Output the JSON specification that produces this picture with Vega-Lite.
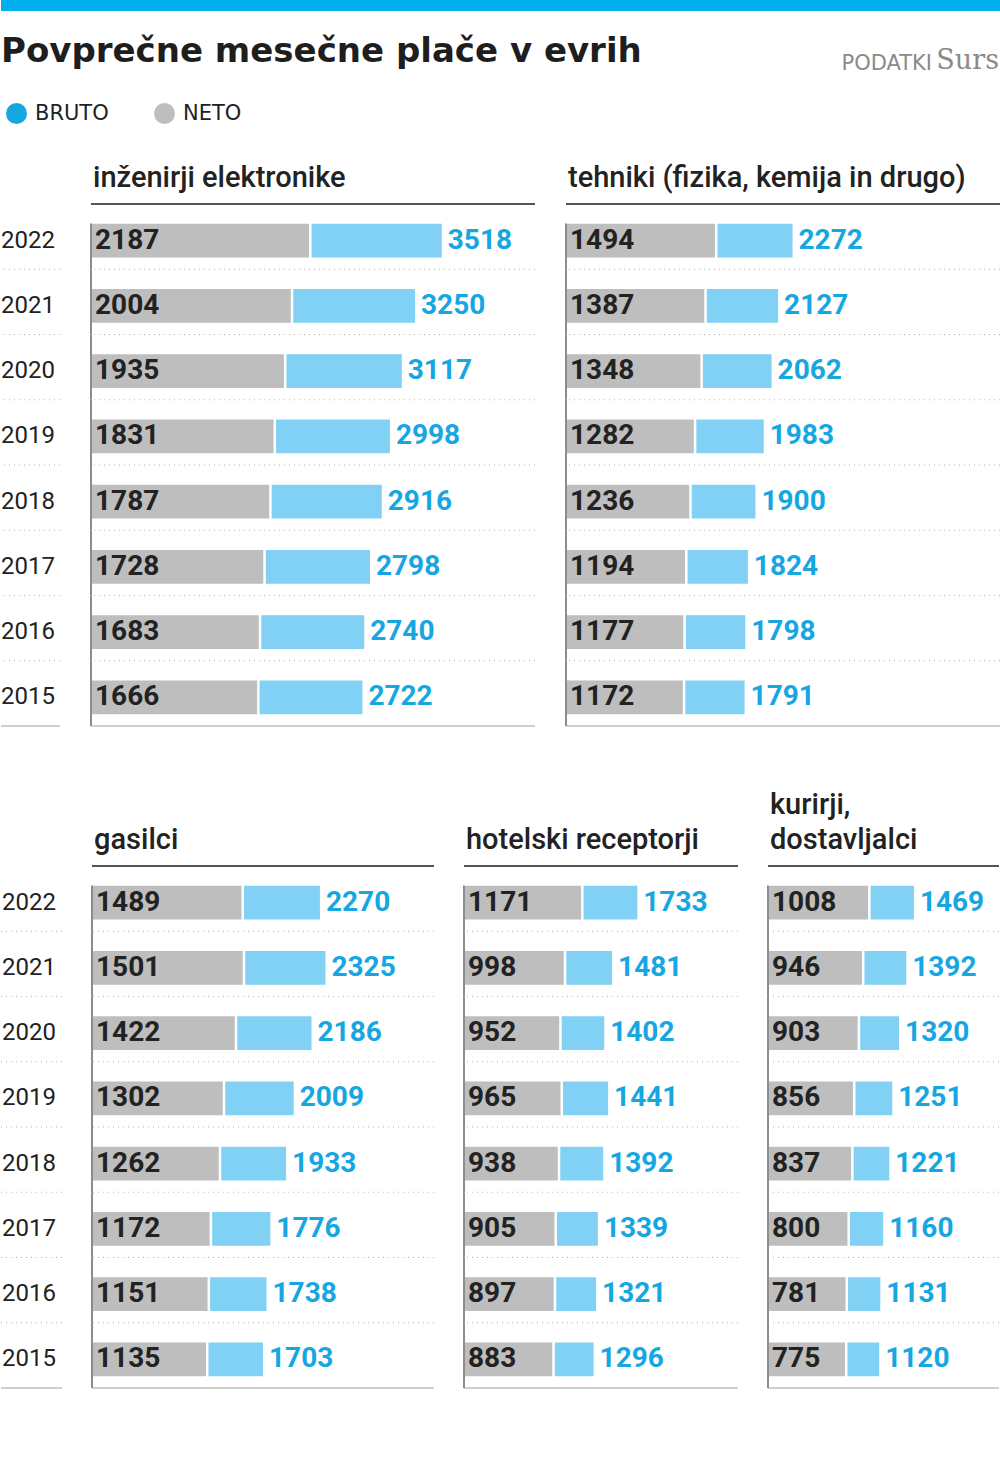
{
  "$schema": "https://vega.github.io/schema/vega-lite/v6.json",
  "padding": 0,
  "background": "white",
  "spacing": 90,
  "datasets": {
    "place": [
      {"skupina": "inženirji elektronike", "leto": 2022, "neto": 2187, "bruto": 3518},
      {"skupina": "inženirji elektronike", "leto": 2021, "neto": 2004, "bruto": 3250},
      {"skupina": "inženirji elektronike", "leto": 2020, "neto": 1935, "bruto": 3117},
      {"skupina": "inženirji elektronike", "leto": 2019, "neto": 1831, "bruto": 2998},
      {"skupina": "inženirji elektronike", "leto": 2018, "neto": 1787, "bruto": 2916},
      {"skupina": "inženirji elektronike", "leto": 2017, "neto": 1728, "bruto": 2798},
      {"skupina": "inženirji elektronike", "leto": 2016, "neto": 1683, "bruto": 2740},
      {"skupina": "inženirji elektronike", "leto": 2015, "neto": 1666, "bruto": 2722},
      {"skupina": "tehniki", "leto": 2022, "neto": 1494, "bruto": 2272},
      {"skupina": "tehniki", "leto": 2021, "neto": 1387, "bruto": 2127},
      {"skupina": "tehniki", "leto": 2020, "neto": 1348, "bruto": 2062},
      {"skupina": "tehniki", "leto": 2019, "neto": 1282, "bruto": 1983},
      {"skupina": "tehniki", "leto": 2018, "neto": 1236, "bruto": 1900},
      {"skupina": "tehniki", "leto": 2017, "neto": 1194, "bruto": 1824},
      {"skupina": "tehniki", "leto": 2016, "neto": 1177, "bruto": 1798},
      {"skupina": "tehniki", "leto": 2015, "neto": 1172, "bruto": 1791},
      {"skupina": "gasilci", "leto": 2022, "neto": 1489, "bruto": 2270},
      {"skupina": "gasilci", "leto": 2021, "neto": 1501, "bruto": 2325},
      {"skupina": "gasilci", "leto": 2020, "neto": 1422, "bruto": 2186},
      {"skupina": "gasilci", "leto": 2019, "neto": 1302, "bruto": 2009},
      {"skupina": "gasilci", "leto": 2018, "neto": 1262, "bruto": 1933},
      {"skupina": "gasilci", "leto": 2017, "neto": 1172, "bruto": 1776},
      {"skupina": "gasilci", "leto": 2016, "neto": 1151, "bruto": 1738},
      {"skupina": "gasilci", "leto": 2015, "neto": 1135, "bruto": 1703},
      {"skupina": "hotelski receptorji", "leto": 2022, "neto": 1171, "bruto": 1733},
      {"skupina": "hotelski receptorji", "leto": 2021, "neto": 998, "bruto": 1481},
      {"skupina": "hotelski receptorji", "leto": 2020, "neto": 952, "bruto": 1402},
      {"skupina": "hotelski receptorji", "leto": 2019, "neto": 965, "bruto": 1441},
      {"skupina": "hotelski receptorji", "leto": 2018, "neto": 938, "bruto": 1392},
      {"skupina": "hotelski receptorji", "leto": 2017, "neto": 905, "bruto": 1339},
      {"skupina": "hotelski receptorji", "leto": 2016, "neto": 897, "bruto": 1321},
      {"skupina": "hotelski receptorji", "leto": 2015, "neto": 883, "bruto": 1296},
      {"skupina": "kurirji", "leto": 2022, "neto": 1008, "bruto": 1469},
      {"skupina": "kurirji", "leto": 2021, "neto": 946, "bruto": 1392},
      {"skupina": "kurirji", "leto": 2020, "neto": 903, "bruto": 1320},
      {"skupina": "kurirji", "leto": 2019, "neto": 856, "bruto": 1251},
      {"skupina": "kurirji", "leto": 2018, "neto": 837, "bruto": 1221},
      {"skupina": "kurirji", "leto": 2017, "neto": 800, "bruto": 1160},
      {"skupina": "kurirji", "leto": 2016, "neto": 781, "bruto": 1131},
      {"skupina": "kurirji", "leto": 2015, "neto": 775, "bruto": 1120}
    ]
  },
  "data": {"name": "place"},
  "config": {
    "view": {"stroke": null},
    "font": "Roboto",
    "axisY": {"domainColor": "#8c8c8c", "domainOpacity": 0, "domainWidth": 2, "labels": false, "ticks": false, "grid": false},
    "title": {"font": "Roboto", "fontSize": 29, "fontWeight": 500, "color": "#222222"},
    "legend": {"orient": "none", "legendX": 5, "legendY": 103, "direction": "horizontal", "symbolType": "circle", "symbolSize": 441, "symbolStrokeWidth": 0, "symbolOpacity": 1, "labelFont": "DejaVu Sans", "labelFontSize": 21, "labelColor": "#222222", "labelOffset": 8, "columnPadding": 45, "padding": 0}
  },
  "vconcat": [
    {
      "spacing": 0,
      "hconcat": [
        {
          "width": 820, "height": 11,
          "data": {"values": [{}]},
          "mark": {"type": "rect", "color": "#00adef"},
          "encoding": {},
          "title": {"text": "Povprečne mesečne plače v evrih", "orient": "bottom", "anchor": "start", "font": "DejaVu Sans", "fontSize": 34, "fontWeight": "bold", "color": "#1e1e1e", "offset": 24}
        },
        {
          "width": 114, "height": 11,
          "data": {"values": [{}]},
          "mark": {"type": "rect", "color": "#00adef"},
          "encoding": {},
          "title": {"text": "PODATKI", "orient": "bottom", "anchor": "end", "dx": -3, "font": "DejaVu Sans", "fontSize": 21, "fontWeight": "normal", "color": "#8a8a8a", "offset": 42}
        },
        {
          "width": 66, "height": 11,
          "data": {"values": [{}]},
          "mark": {"type": "rect", "color": "#00adef"},
          "encoding": {},
          "title": {"text": "Surs", "orient": "bottom", "anchor": "end", "dx": -2, "font": "DejaVu Serif", "fontSize": 27, "fontWeight": "normal", "color": "#8a8a8a", "offset": 37}
        }
      ]
    },
    {
      "spacing": 64,
      "vconcat": [
        {
          "spacing": 29,
          "hconcat": [
            {
              "width": 59, "height": 522,
              "transform": [{"filter": "datum.skupina === 'inženirji elektronike'"}],
              "layer": [
                {"mark": {"type": "text", "font": "Roboto", "fontSize": 24, "color": "#222222", "dx": -2.5, "yOffset": 4},
                 "encoding": {"y": {"field": "leto", "type": "ordinal", "sort": "descending", "title": null, "axis": null, "scale": {"type": "band", "paddingInner": 0, "paddingOuter": 0}}, "text": {"field": "leto", "type": "ordinal"}}},
                {"transform": [{"filter": "datum.leto !== 2015"}], "mark": {"type": "rule", "color": "#b5b5b5", "strokeDash": [1, 4], "strokeWidth": 1},
                 "encoding": {"y": {"field": "leto", "type": "ordinal", "sort": "descending", "title": null, "axis": null, "bandPosition": 1, "scale": {"type": "band", "paddingInner": 0, "paddingOuter": 0}}}},
                {"transform": [{"filter": "datum.leto === 2015"}], "mark": {"type": "rule", "color": "#cfcfcf", "strokeWidth": 2},
                 "encoding": {"y": {"field": "leto", "type": "ordinal", "sort": "descending", "title": null, "axis": null, "bandPosition": 1, "scale": {"type": "band", "paddingInner": 0, "paddingOuter": 0}}}}
              ]
            },
            {
              "width": 444, "height": 522,
              "title": {"text": "inženirji elektronike", "anchor": "start", "dx": 3, "offset": 10},
              "transform": [{"filter": "datum.skupina === 'inženirji elektronike'"}],
              "layer": [
                {"transform": [{"filter": "datum.leto !== 2015"}], "mark": {"type": "rule", "color": "#b5b5b5", "strokeDash": [1, 4], "strokeWidth": 1},
                 "encoding": {"y": {"field": "leto", "type": "ordinal", "sort": "descending", "title": null, "bandPosition": 1, "scale": {"type": "band", "paddingInner": 0, "paddingOuter": 0}}}},
                {"transform": [{"filter": "datum.leto === 2015"}], "mark": {"type": "rule", "color": "#cfcfcf", "strokeWidth": 2},
                 "encoding": {"y": {"field": "leto", "type": "ordinal", "sort": "descending", "title": null, "bandPosition": 1, "scale": {"type": "band", "paddingInner": 0, "paddingOuter": 0}}}},
                {"transform": [{"filter": "datum.leto === 2022"}], "mark": {"type": "rule", "color": "#555555", "strokeWidth": 2},
                 "encoding": {"y": {"field": "leto", "type": "ordinal", "sort": "descending", "title": null, "bandPosition": 0, "scale": {"type": "band", "paddingInner": 0, "paddingOuter": 0}}}},
                {"mark": {"type": "bar", "height": {"band": 0.52}, "yOffset": 4},
                 "encoding": {"y": {"field": "leto", "type": "ordinal", "sort": "descending", "title": null, "scale": {"type": "band", "paddingInner": 0, "paddingOuter": 0}},
                   "x": {"field": "neto", "type": "quantitative", "axis": null, "scale": {"domain": [0, 4453], "nice": false}},
                   "color": {"datum": "NETO", "title": null, "scale": {"domain": ["BRUTO", "NETO"], "range": ["#16a6e2", "#bebebe"]}}}},
                {"mark": {"type": "bar", "height": {"band": 0.52}, "yOffset": 4, "color": "#80d1f4", "x2Offset": 2.5},
                 "encoding": {"y": {"field": "leto", "type": "ordinal", "sort": "descending", "title": null, "scale": {"type": "band", "paddingInner": 0, "paddingOuter": 0}},
                   "x": {"field": "bruto", "type": "quantitative", "axis": null, "scale": {"domain": [0, 4453], "nice": false}},
                   "x2": {"field": "neto"}}},
                {"transform": [{"filter": "datum.leto !== 2022"}], "mark": {"type": "bar", "height": {"band": 1}, "color": "#8c8c8c", "xOffset": -1, "x2Offset": 1},
                 "encoding": {"y": {"field": "leto", "type": "ordinal", "sort": "descending", "title": null, "scale": {"type": "band", "paddingInner": 0, "paddingOuter": 0}},
                   "x": {"datum": 0, "type": "quantitative", "axis": null, "scale": {"domain": [0, 4453], "nice": false}},
                   "x2": {"datum": 0}}},
                {"transform": [{"filter": "datum.leto === 2022"}], "mark": {"type": "bar", "height": {"band": 0.7}, "yOffset": 9.8, "color": "#8c8c8c", "xOffset": -1, "x2Offset": 1},
                 "encoding": {"y": {"field": "leto", "type": "ordinal", "sort": "descending", "title": null, "scale": {"type": "band", "paddingInner": 0, "paddingOuter": 0}},
                   "x": {"datum": 0, "type": "quantitative", "axis": null, "scale": {"domain": [0, 4453], "nice": false}},
                   "x2": {"datum": 0}}},
                {"mark": {"type": "text", "align": "left", "dx": 4, "yOffset": 4, "font": "Roboto", "fontSize": 28, "fontWeight": "bold", "color": "#222222"},
                 "encoding": {"y": {"field": "leto", "type": "ordinal", "sort": "descending", "title": null, "scale": {"type": "band", "paddingInner": 0, "paddingOuter": 0}},
                   "x": {"datum": 0, "type": "quantitative", "axis": null, "scale": {"domain": [0, 4453], "nice": false}},
                   "text": {"field": "neto", "type": "quantitative", "format": "d"}}},
                {"mark": {"type": "text", "align": "left", "dx": 6, "yOffset": 4, "font": "Roboto", "fontSize": 28, "fontWeight": "bold"},
                 "encoding": {"y": {"field": "leto", "type": "ordinal", "sort": "descending", "title": null, "scale": {"type": "band", "paddingInner": 0, "paddingOuter": 0}},
                   "x": {"field": "bruto", "type": "quantitative", "axis": null, "scale": {"domain": [0, 4453], "nice": false}},
                   "color": {"datum": "BRUTO", "title": null, "scale": {"domain": ["BRUTO", "NETO"], "range": ["#16a6e2", "#bebebe"]}},
                   "text": {"field": "bruto", "type": "quantitative", "format": "d"}}}
              ]
            },
            {
              "width": 434, "height": 522,
              "title": {"text": "tehniki (fizika, kemija in drugo)", "anchor": "start", "dx": 3, "offset": 10},
              "transform": [{"filter": "datum.skupina === 'tehniki'"}],
              "layer": [
                {"transform": [{"filter": "datum.leto !== 2015"}], "mark": {"type": "rule", "color": "#b5b5b5", "strokeDash": [1, 4], "strokeWidth": 1},
                 "encoding": {"y": {"field": "leto", "type": "ordinal", "sort": "descending", "title": null, "bandPosition": 1, "scale": {"type": "band", "paddingInner": 0, "paddingOuter": 0}}}},
                {"transform": [{"filter": "datum.leto === 2015"}], "mark": {"type": "rule", "color": "#cfcfcf", "strokeWidth": 2},
                 "encoding": {"y": {"field": "leto", "type": "ordinal", "sort": "descending", "title": null, "bandPosition": 1, "scale": {"type": "band", "paddingInner": 0, "paddingOuter": 0}}}},
                {"transform": [{"filter": "datum.leto === 2022"}], "mark": {"type": "rule", "color": "#555555", "strokeWidth": 2},
                 "encoding": {"y": {"field": "leto", "type": "ordinal", "sort": "descending", "title": null, "bandPosition": 0, "scale": {"type": "band", "paddingInner": 0, "paddingOuter": 0}}}},
                {"mark": {"type": "bar", "height": {"band": 0.52}, "yOffset": 4},
                 "encoding": {"y": {"field": "leto", "type": "ordinal", "sort": "descending", "title": null, "scale": {"type": "band", "paddingInner": 0, "paddingOuter": 0}},
                   "x": {"field": "neto", "type": "quantitative", "axis": null, "scale": {"domain": [0, 4353], "nice": false}},
                   "color": {"datum": "NETO", "title": null, "scale": {"domain": ["BRUTO", "NETO"], "range": ["#16a6e2", "#bebebe"]}}}},
                {"mark": {"type": "bar", "height": {"band": 0.52}, "yOffset": 4, "color": "#80d1f4", "x2Offset": 2.5},
                 "encoding": {"y": {"field": "leto", "type": "ordinal", "sort": "descending", "title": null, "scale": {"type": "band", "paddingInner": 0, "paddingOuter": 0}},
                   "x": {"field": "bruto", "type": "quantitative", "axis": null, "scale": {"domain": [0, 4353], "nice": false}},
                   "x2": {"field": "neto"}}},
                {"transform": [{"filter": "datum.leto !== 2022"}], "mark": {"type": "bar", "height": {"band": 1}, "color": "#8c8c8c", "xOffset": -1, "x2Offset": 1},
                 "encoding": {"y": {"field": "leto", "type": "ordinal", "sort": "descending", "title": null, "scale": {"type": "band", "paddingInner": 0, "paddingOuter": 0}},
                   "x": {"datum": 0, "type": "quantitative", "axis": null, "scale": {"domain": [0, 4353], "nice": false}},
                   "x2": {"datum": 0}}},
                {"transform": [{"filter": "datum.leto === 2022"}], "mark": {"type": "bar", "height": {"band": 0.7}, "yOffset": 9.8, "color": "#8c8c8c", "xOffset": -1, "x2Offset": 1},
                 "encoding": {"y": {"field": "leto", "type": "ordinal", "sort": "descending", "title": null, "scale": {"type": "band", "paddingInner": 0, "paddingOuter": 0}},
                   "x": {"datum": 0, "type": "quantitative", "axis": null, "scale": {"domain": [0, 4353], "nice": false}},
                   "x2": {"datum": 0}}},
                {"mark": {"type": "text", "align": "left", "dx": 4, "yOffset": 4, "font": "Roboto", "fontSize": 28, "fontWeight": "bold", "color": "#222222"},
                 "encoding": {"y": {"field": "leto", "type": "ordinal", "sort": "descending", "title": null, "scale": {"type": "band", "paddingInner": 0, "paddingOuter": 0}},
                   "x": {"datum": 0, "type": "quantitative", "axis": null, "scale": {"domain": [0, 4353], "nice": false}},
                   "text": {"field": "neto", "type": "quantitative", "format": "d"}}},
                {"mark": {"type": "text", "align": "left", "dx": 6, "yOffset": 4, "font": "Roboto", "fontSize": 28, "fontWeight": "bold"},
                 "encoding": {"y": {"field": "leto", "type": "ordinal", "sort": "descending", "title": null, "scale": {"type": "band", "paddingInner": 0, "paddingOuter": 0}},
                   "x": {"field": "bruto", "type": "quantitative", "axis": null, "scale": {"domain": [0, 4353], "nice": false}},
                   "color": {"datum": "BRUTO", "title": null, "scale": {"domain": ["BRUTO", "NETO"], "range": ["#16a6e2", "#bebebe"]}},
                   "text": {"field": "bruto", "type": "quantitative", "format": "d"}}}
              ]
            }
          ]
        },
        {
          "spacing": 28,
          "hconcat": [
            {
              "width": 61, "height": 522,
              "transform": [{"filter": "datum.skupina === 'gasilci'"}],
              "layer": [
                {"mark": {"type": "text", "font": "Roboto", "fontSize": 24, "color": "#222222", "dx": -2.5, "yOffset": 4},
                 "encoding": {"y": {"field": "leto", "type": "ordinal", "sort": "descending", "title": null, "axis": null, "scale": {"type": "band", "paddingInner": 0, "paddingOuter": 0}}, "text": {"field": "leto", "type": "ordinal"}}},
                {"transform": [{"filter": "datum.leto !== 2015"}], "mark": {"type": "rule", "color": "#b5b5b5", "strokeDash": [1, 4], "strokeWidth": 1},
                 "encoding": {"y": {"field": "leto", "type": "ordinal", "sort": "descending", "title": null, "axis": null, "bandPosition": 1, "scale": {"type": "band", "paddingInner": 0, "paddingOuter": 0}}}},
                {"transform": [{"filter": "datum.leto === 2015"}], "mark": {"type": "rule", "color": "#cfcfcf", "strokeWidth": 2},
                 "encoding": {"y": {"field": "leto", "type": "ordinal", "sort": "descending", "title": null, "axis": null, "bandPosition": 1, "scale": {"type": "band", "paddingInner": 0, "paddingOuter": 0}}}}
              ]
            },
            {
              "width": 342, "height": 522,
              "title": {"text": "gasilci", "anchor": "start", "dx": 3, "offset": 10},
              "transform": [{"filter": "datum.skupina === 'gasilci'"}],
              "layer": [
                {"transform": [{"filter": "datum.leto !== 2015"}], "mark": {"type": "rule", "color": "#b5b5b5", "strokeDash": [1, 4], "strokeWidth": 1},
                 "encoding": {"y": {"field": "leto", "type": "ordinal", "sort": "descending", "title": null, "bandPosition": 1, "scale": {"type": "band", "paddingInner": 0, "paddingOuter": 0}}}},
                {"transform": [{"filter": "datum.leto === 2015"}], "mark": {"type": "rule", "color": "#cfcfcf", "strokeWidth": 2},
                 "encoding": {"y": {"field": "leto", "type": "ordinal", "sort": "descending", "title": null, "bandPosition": 1, "scale": {"type": "band", "paddingInner": 0, "paddingOuter": 0}}}},
                {"transform": [{"filter": "datum.leto === 2022"}], "mark": {"type": "rule", "color": "#555555", "strokeWidth": 2},
                 "encoding": {"y": {"field": "leto", "type": "ordinal", "sort": "descending", "title": null, "bandPosition": 0, "scale": {"type": "band", "paddingInner": 0, "paddingOuter": 0}}}},
                {"mark": {"type": "bar", "height": {"band": 0.52}, "yOffset": 4},
                 "encoding": {"y": {"field": "leto", "type": "ordinal", "sort": "descending", "title": null, "scale": {"type": "band", "paddingInner": 0, "paddingOuter": 0}},
                   "x": {"field": "neto", "type": "quantitative", "axis": null, "scale": {"domain": [0, 3406], "nice": false}},
                   "color": {"datum": "NETO", "title": null, "scale": {"domain": ["BRUTO", "NETO"], "range": ["#16a6e2", "#bebebe"]}}}},
                {"mark": {"type": "bar", "height": {"band": 0.52}, "yOffset": 4, "color": "#80d1f4", "x2Offset": 2.5},
                 "encoding": {"y": {"field": "leto", "type": "ordinal", "sort": "descending", "title": null, "scale": {"type": "band", "paddingInner": 0, "paddingOuter": 0}},
                   "x": {"field": "bruto", "type": "quantitative", "axis": null, "scale": {"domain": [0, 3406], "nice": false}},
                   "x2": {"field": "neto"}}},
                {"transform": [{"filter": "datum.leto !== 2022"}], "mark": {"type": "bar", "height": {"band": 1}, "color": "#8c8c8c", "xOffset": -1, "x2Offset": 1},
                 "encoding": {"y": {"field": "leto", "type": "ordinal", "sort": "descending", "title": null, "scale": {"type": "band", "paddingInner": 0, "paddingOuter": 0}},
                   "x": {"datum": 0, "type": "quantitative", "axis": null, "scale": {"domain": [0, 3406], "nice": false}},
                   "x2": {"datum": 0}}},
                {"transform": [{"filter": "datum.leto === 2022"}], "mark": {"type": "bar", "height": {"band": 0.7}, "yOffset": 9.8, "color": "#8c8c8c", "xOffset": -1, "x2Offset": 1},
                 "encoding": {"y": {"field": "leto", "type": "ordinal", "sort": "descending", "title": null, "scale": {"type": "band", "paddingInner": 0, "paddingOuter": 0}},
                   "x": {"datum": 0, "type": "quantitative", "axis": null, "scale": {"domain": [0, 3406], "nice": false}},
                   "x2": {"datum": 0}}},
                {"mark": {"type": "text", "align": "left", "dx": 4, "yOffset": 4, "font": "Roboto", "fontSize": 28, "fontWeight": "bold", "color": "#222222"},
                 "encoding": {"y": {"field": "leto", "type": "ordinal", "sort": "descending", "title": null, "scale": {"type": "band", "paddingInner": 0, "paddingOuter": 0}},
                   "x": {"datum": 0, "type": "quantitative", "axis": null, "scale": {"domain": [0, 3406], "nice": false}},
                   "text": {"field": "neto", "type": "quantitative", "format": "d"}}},
                {"mark": {"type": "text", "align": "left", "dx": 6, "yOffset": 4, "font": "Roboto", "fontSize": 28, "fontWeight": "bold"},
                 "encoding": {"y": {"field": "leto", "type": "ordinal", "sort": "descending", "title": null, "scale": {"type": "band", "paddingInner": 0, "paddingOuter": 0}},
                   "x": {"field": "bruto", "type": "quantitative", "axis": null, "scale": {"domain": [0, 3406], "nice": false}},
                   "color": {"datum": "BRUTO", "title": null, "scale": {"domain": ["BRUTO", "NETO"], "range": ["#16a6e2", "#bebebe"]}},
                   "text": {"field": "bruto", "type": "quantitative", "format": "d"}}}
              ]
            },
            {
              "width": 274, "height": 522,
              "title": {"text": "hotelski receptorji", "anchor": "start", "dx": 3, "offset": 10},
              "transform": [{"filter": "datum.skupina === 'hotelski receptorji'"}],
              "layer": [
                {"transform": [{"filter": "datum.leto !== 2015"}], "mark": {"type": "rule", "color": "#b5b5b5", "strokeDash": [1, 4], "strokeWidth": 1},
                 "encoding": {"y": {"field": "leto", "type": "ordinal", "sort": "descending", "title": null, "bandPosition": 1, "scale": {"type": "band", "paddingInner": 0, "paddingOuter": 0}}}},
                {"transform": [{"filter": "datum.leto === 2015"}], "mark": {"type": "rule", "color": "#cfcfcf", "strokeWidth": 2},
                 "encoding": {"y": {"field": "leto", "type": "ordinal", "sort": "descending", "title": null, "bandPosition": 1, "scale": {"type": "band", "paddingInner": 0, "paddingOuter": 0}}}},
                {"transform": [{"filter": "datum.leto === 2022"}], "mark": {"type": "rule", "color": "#555555", "strokeWidth": 2},
                 "encoding": {"y": {"field": "leto", "type": "ordinal", "sort": "descending", "title": null, "bandPosition": 0, "scale": {"type": "band", "paddingInner": 0, "paddingOuter": 0}}}},
                {"mark": {"type": "bar", "height": {"band": 0.52}, "yOffset": 4},
                 "encoding": {"y": {"field": "leto", "type": "ordinal", "sort": "descending", "title": null, "scale": {"type": "band", "paddingInner": 0, "paddingOuter": 0}},
                   "x": {"field": "neto", "type": "quantitative", "axis": null, "scale": {"domain": [0, 2740], "nice": false}},
                   "color": {"datum": "NETO", "title": null, "scale": {"domain": ["BRUTO", "NETO"], "range": ["#16a6e2", "#bebebe"]}}}},
                {"mark": {"type": "bar", "height": {"band": 0.52}, "yOffset": 4, "color": "#80d1f4", "x2Offset": 2.5},
                 "encoding": {"y": {"field": "leto", "type": "ordinal", "sort": "descending", "title": null, "scale": {"type": "band", "paddingInner": 0, "paddingOuter": 0}},
                   "x": {"field": "bruto", "type": "quantitative", "axis": null, "scale": {"domain": [0, 2740], "nice": false}},
                   "x2": {"field": "neto"}}},
                {"transform": [{"filter": "datum.leto !== 2022"}], "mark": {"type": "bar", "height": {"band": 1}, "color": "#8c8c8c", "xOffset": -1, "x2Offset": 1},
                 "encoding": {"y": {"field": "leto", "type": "ordinal", "sort": "descending", "title": null, "scale": {"type": "band", "paddingInner": 0, "paddingOuter": 0}},
                   "x": {"datum": 0, "type": "quantitative", "axis": null, "scale": {"domain": [0, 2740], "nice": false}},
                   "x2": {"datum": 0}}},
                {"transform": [{"filter": "datum.leto === 2022"}], "mark": {"type": "bar", "height": {"band": 0.7}, "yOffset": 9.8, "color": "#8c8c8c", "xOffset": -1, "x2Offset": 1},
                 "encoding": {"y": {"field": "leto", "type": "ordinal", "sort": "descending", "title": null, "scale": {"type": "band", "paddingInner": 0, "paddingOuter": 0}},
                   "x": {"datum": 0, "type": "quantitative", "axis": null, "scale": {"domain": [0, 2740], "nice": false}},
                   "x2": {"datum": 0}}},
                {"mark": {"type": "text", "align": "left", "dx": 4, "yOffset": 4, "font": "Roboto", "fontSize": 28, "fontWeight": "bold", "color": "#222222"},
                 "encoding": {"y": {"field": "leto", "type": "ordinal", "sort": "descending", "title": null, "scale": {"type": "band", "paddingInner": 0, "paddingOuter": 0}},
                   "x": {"datum": 0, "type": "quantitative", "axis": null, "scale": {"domain": [0, 2740], "nice": false}},
                   "text": {"field": "neto", "type": "quantitative", "format": "d"}}},
                {"mark": {"type": "text", "align": "left", "dx": 6, "yOffset": 4, "font": "Roboto", "fontSize": 28, "fontWeight": "bold"},
                 "encoding": {"y": {"field": "leto", "type": "ordinal", "sort": "descending", "title": null, "scale": {"type": "band", "paddingInner": 0, "paddingOuter": 0}},
                   "x": {"field": "bruto", "type": "quantitative", "axis": null, "scale": {"domain": [0, 2740], "nice": false}},
                   "color": {"datum": "BRUTO", "title": null, "scale": {"domain": ["BRUTO", "NETO"], "range": ["#16a6e2", "#bebebe"]}},
                   "text": {"field": "bruto", "type": "quantitative", "format": "d"}}}
              ]
            },
            {
              "width": 231, "height": 522,
              "title": {"text": ["kurirji,", "dostavljalci"], "anchor": "start", "dx": 3, "offset": 10, "lineHeight": 35},
              "transform": [{"filter": "datum.skupina === 'kurirji'"}],
              "layer": [
                {"transform": [{"filter": "datum.leto !== 2015"}], "mark": {"type": "rule", "color": "#b5b5b5", "strokeDash": [1, 4], "strokeWidth": 1},
                 "encoding": {"y": {"field": "leto", "type": "ordinal", "sort": "descending", "title": null, "bandPosition": 1, "scale": {"type": "band", "paddingInner": 0, "paddingOuter": 0}}}},
                {"transform": [{"filter": "datum.leto === 2015"}], "mark": {"type": "rule", "color": "#cfcfcf", "strokeWidth": 2},
                 "encoding": {"y": {"field": "leto", "type": "ordinal", "sort": "descending", "title": null, "bandPosition": 1, "scale": {"type": "band", "paddingInner": 0, "paddingOuter": 0}}}},
                {"transform": [{"filter": "datum.leto === 2022"}], "mark": {"type": "rule", "color": "#555555", "strokeWidth": 2},
                 "encoding": {"y": {"field": "leto", "type": "ordinal", "sort": "descending", "title": null, "bandPosition": 0, "scale": {"type": "band", "paddingInner": 0, "paddingOuter": 0}}}},
                {"mark": {"type": "bar", "height": {"band": 0.52}, "yOffset": 4},
                 "encoding": {"y": {"field": "leto", "type": "ordinal", "sort": "descending", "title": null, "scale": {"type": "band", "paddingInner": 0, "paddingOuter": 0}},
                   "x": {"field": "neto", "type": "quantitative", "axis": null, "scale": {"domain": [0, 2326], "nice": false}},
                   "color": {"datum": "NETO", "title": null, "scale": {"domain": ["BRUTO", "NETO"], "range": ["#16a6e2", "#bebebe"]}}}},
                {"mark": {"type": "bar", "height": {"band": 0.52}, "yOffset": 4, "color": "#80d1f4", "x2Offset": 2.5},
                 "encoding": {"y": {"field": "leto", "type": "ordinal", "sort": "descending", "title": null, "scale": {"type": "band", "paddingInner": 0, "paddingOuter": 0}},
                   "x": {"field": "bruto", "type": "quantitative", "axis": null, "scale": {"domain": [0, 2326], "nice": false}},
                   "x2": {"field": "neto"}}},
                {"transform": [{"filter": "datum.leto !== 2022"}], "mark": {"type": "bar", "height": {"band": 1}, "color": "#8c8c8c", "xOffset": -1, "x2Offset": 1},
                 "encoding": {"y": {"field": "leto", "type": "ordinal", "sort": "descending", "title": null, "scale": {"type": "band", "paddingInner": 0, "paddingOuter": 0}},
                   "x": {"datum": 0, "type": "quantitative", "axis": null, "scale": {"domain": [0, 2326], "nice": false}},
                   "x2": {"datum": 0}}},
                {"transform": [{"filter": "datum.leto === 2022"}], "mark": {"type": "bar", "height": {"band": 0.7}, "yOffset": 9.8, "color": "#8c8c8c", "xOffset": -1, "x2Offset": 1},
                 "encoding": {"y": {"field": "leto", "type": "ordinal", "sort": "descending", "title": null, "scale": {"type": "band", "paddingInner": 0, "paddingOuter": 0}},
                   "x": {"datum": 0, "type": "quantitative", "axis": null, "scale": {"domain": [0, 2326], "nice": false}},
                   "x2": {"datum": 0}}},
                {"mark": {"type": "text", "align": "left", "dx": 4, "yOffset": 4, "font": "Roboto", "fontSize": 28, "fontWeight": "bold", "color": "#222222"},
                 "encoding": {"y": {"field": "leto", "type": "ordinal", "sort": "descending", "title": null, "scale": {"type": "band", "paddingInner": 0, "paddingOuter": 0}},
                   "x": {"datum": 0, "type": "quantitative", "axis": null, "scale": {"domain": [0, 2326], "nice": false}},
                   "text": {"field": "neto", "type": "quantitative", "format": "d"}}},
                {"mark": {"type": "text", "align": "left", "dx": 6, "yOffset": 4, "font": "Roboto", "fontSize": 28, "fontWeight": "bold"},
                 "encoding": {"y": {"field": "leto", "type": "ordinal", "sort": "descending", "title": null, "scale": {"type": "band", "paddingInner": 0, "paddingOuter": 0}},
                   "x": {"field": "bruto", "type": "quantitative", "axis": null, "scale": {"domain": [0, 2326], "nice": false}},
                   "color": {"datum": "BRUTO", "title": null, "scale": {"domain": ["BRUTO", "NETO"], "range": ["#16a6e2", "#bebebe"]}},
                   "text": {"field": "bruto", "type": "quantitative", "format": "d"}}}
              ]
            }
          ]
        }
      ]
    }
  ]
}
